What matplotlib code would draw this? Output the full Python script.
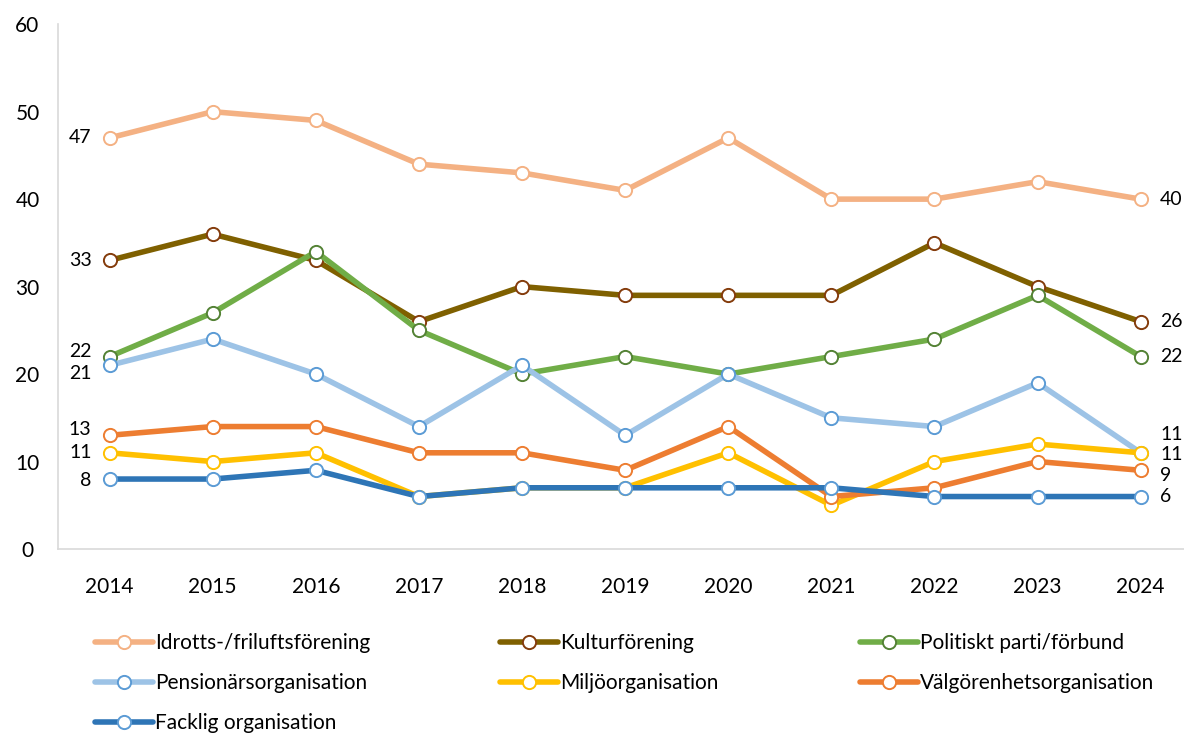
import matplotlib.pyplot as plt
import numpy as np

years = [2014, 2015, 2016, 2017, 2018, 2019, 2020, 2021, 2022, 2023, 2024]

idrott = [47, 50, 49, 44, 43, 41, 47, 40, 40, 42, 40]
kultur = [33, 36, 33, 26, 30, 29, 29, 29, 35, 30, 26]
politiskt = [22, 27, 34, 25, 20, 22, 20, 22, 24, 29, 22]
pension = [21, 24, 20, 14, 21, 13, 20, 15, 14, 19, 11]
miljo = [11, 10, 11, 6, 7, 7, 11, 5, 10, 12, 11]
valgorenhet = [13, 14, 14, 11, 11, 9, 14, 6, 7, 10, 9]
facklig = [8, 8, 9, 6, 7, 7, 7, 7, 6, 6, 6]

names = ["Idrotts-/friluftsförening", "Kulturförening", "Politiskt parti/förbund",
         "Pensionärsorganisation", "Miljöorganisation", "Välgörenhetsorganisation",
         "Facklig organisation"]
series = [idrott, kultur, politiskt, pension, miljo, valgorenhet, facklig]
line_colors = ["#F4B183", "#7F6000", "#70AD47", "#9DC3E6", "#FFC000", "#ED7D31", "#2E75B6"]
edge_colors = ["#F4B183", "#843C0C", "#548235", "#5B9BD5", "#FFC000", "#ED7D31", "#5B9BD5"]

# label offsets (points) for first / last values
left_dy = [0, 0, 4, -6, 0, 4, -1]
right_dy = [0, 0, 0, 13, -1, -4, 0]

plt.rcParams['font.family'] = ['Lato', 'DejaVu Sans']

fig = plt.figure(figsize=(11.84, 7.33), dpi=100)
ax = fig.add_axes([0.049, 0.251, 0.958, 0.716])

handles = []
for name, vals, lc, ec, ldy, rdy in zip(names, series, line_colors, edge_colors, left_dy, right_dy):
    h, = ax.plot(years, vals, color=lc, lw=4, marker='o', markersize=9.5,
                 markerfacecolor='white', markeredgecolor=ec, markeredgewidth=1.4,
                 label=name, solid_capstyle='round')
    handles.append(h)
    ax.annotate(str(vals[0]), (years[0], vals[0]), xytext=(-13, ldy), textcoords='offset points',
                ha='right', va='center', fontsize=14)
    ax.annotate(str(vals[-1]), (years[-1], vals[-1]), xytext=(14, rdy), textcoords='offset points',
                ha='left', va='center', fontsize=14, annotation_clip=False)

ax.set_xlim(2013.5, 2024.5)
ax.set_ylim(0, 60)
ax.set_xticks(years)
ax.set_yticks(np.arange(0, 61, 10))
ax.tick_params(length=0, labelsize=15)
ax.tick_params(axis='x', pad=20)
ax.tick_params(axis='y', pad=22)
for lbl in ax.get_yticklabels():
    lbl.set_horizontalalignment('center')
for s in ['top', 'right']:
    ax.spines[s].set_visible(False)
for s in ['left', 'bottom']:
    ax.spines[s].set_color('#D9D9D9')
    ax.spines[s].set_linewidth(1.2)

cols = [[0, 3, 6], [1, 4], [2, 5]]
xs = [0.080, 0.422, 0.726]
for idx, x in zip(cols, xs):
    fig.legend([handles[i] for i in idx], [names[i] for i in idx], loc='upper left',
               bbox_to_anchor=(x, 0.136), frameon=False, fontsize=15, handlelength=2.8,
               handletextpad=0.1, labelspacing=0.95, borderaxespad=0, borderpad=0)

fig.savefig("out.png", dpi=100)
